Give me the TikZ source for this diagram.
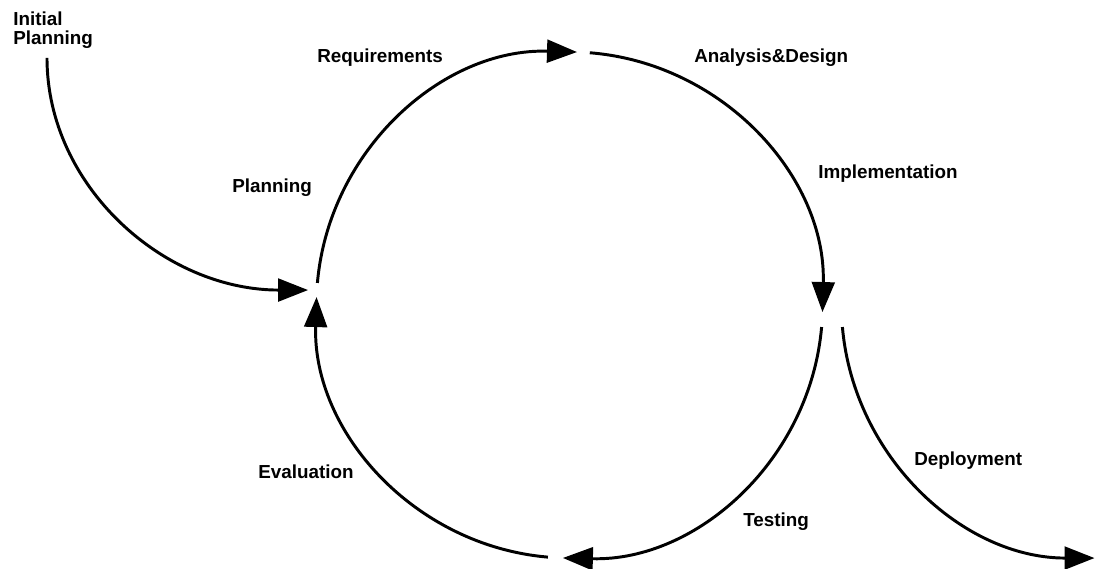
\documentclass[tikz,border=0pt]{standalone}
\usepackage{fontspec}
\setmainfont{Liberation Sans}
\usetikzlibrary{arrows.meta}
\begin{document}
\begin{tikzpicture}[x=0.025cm, y=0.025cm,
  flow/.style={line width=2.1pt, -{Triangle[length=0.75cm, width=0.57cm]}},
  lbl/.style={inner sep=0pt, anchor=base west, font=\fontsize{13.4}{13.5}\selectfont\bfseries}]
  \useasboundingbox (0,0) rectangle (1095,569);

  % centre of the cycle
  \coordinate (C) at (569.5,264);

  % start points of the four cycle arcs
  \coordinate (s1) at ([shift={(175:6.325cm)}]C);
  \coordinate (s2) at ([shift={(85.4:6.325cm)}]C);
  \coordinate (s3) at ([shift={(-5:6.325cm)}]C);
  \coordinate (s4) at ([shift={(-94.9:6.325cm)}]C);

  \draw[flow] (s1) arc[start angle=175, end angle=88.3, radius=6.325cm];
  \draw[flow] (s2) arc[start angle=85.4, end angle=-1.6, radius=6.325cm];
  \draw[flow] (s3) arc[start angle=-5, end angle=-91.5, radius=6.325cm];
  \draw[flow] (s4) arc[start angle=-94.9, end angle=-181.8, radius=6.325cm];

  % entry and exit arcs
  \coordinate (ip) at (47,511);
  \draw[flow] (ip) arc[start angle=180, end angle=270, x radius=6.525cm, y radius=5.8cm];
  \coordinate (dp) at ([shift={(185:6.325cm)}]1094.5,264);
  \draw[flow] (dp) arc[start angle=185, end angle=270, radius=6.325cm];

  % labels
  \node[lbl, anchor=north west, align=left, font=\fontsize{13.4}{13.5}\selectfont\bfseries] (tInit) at (13,557) {Initial\\Planning};
  \node[lbl] (tReq) at (317,506) {Requirements};
  \node[lbl] (tAna) at (694,506) {Analysis\&Design};
  \node[lbl] (tPlan) at (232,376) {Planning};
  \node[lbl] (tImp) at (818,390) {Implementation};
  \node[lbl] (tDep) at (914,103) {Deployment};
  \node[lbl] (tEva) at (258,90) {Evaluation};
  \node[lbl] (tTest) at (743,42) {Testing};
\end{tikzpicture}
\end{document}
